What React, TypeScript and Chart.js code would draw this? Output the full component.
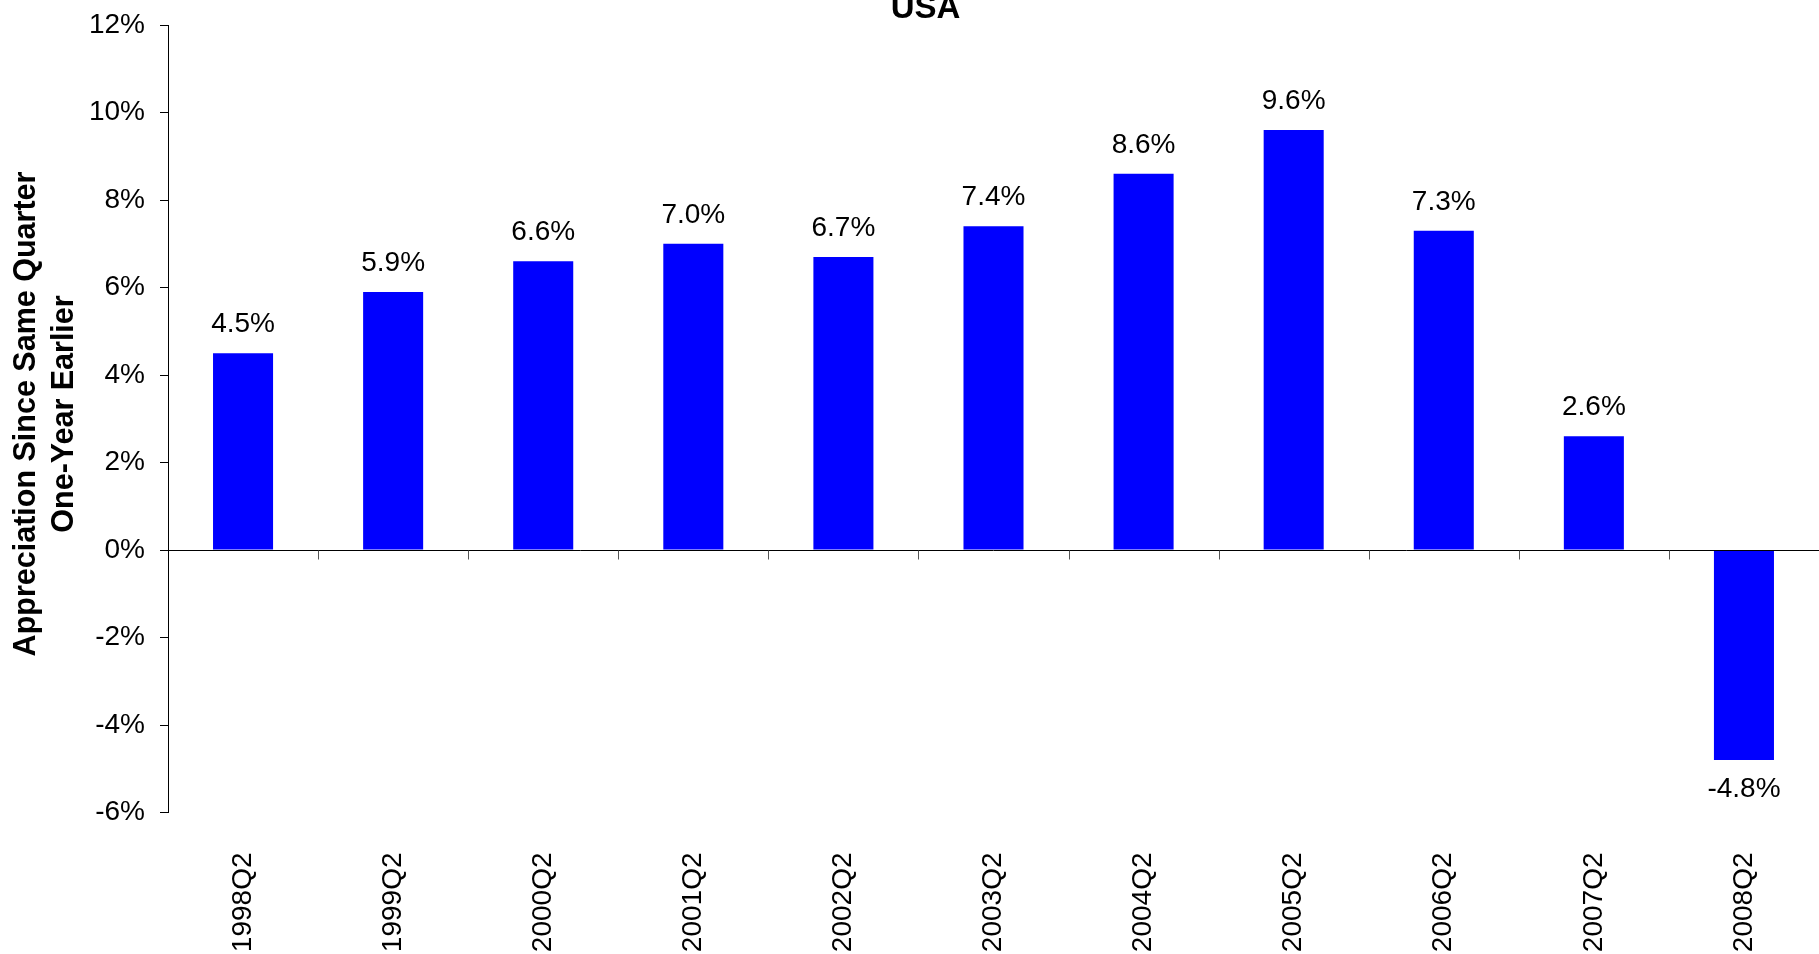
import React, { useEffect, useRef } from 'react';
import { Chart, registerables } from 'chart.js';

Chart.register(...registerables);

const FONT = '"Liberation Sans", Arial, Helvetica, sans-serif';
const W = 1819;
const H = 954;

const categories = ['1998Q2', '1999Q2', '2000Q2', '2001Q2', '2002Q2', '2003Q2', '2004Q2', '2005Q2', '2006Q2', '2007Q2', '2008Q2'];
const values = [4.5, 5.9, 6.6, 7.0, 6.7, 7.4, 8.6, 9.6, 7.3, 2.6, -4.8];
const yMin = -6;
const yMax = 12;
const yStep = 2;
const titleText = 'USA';
const yTitleLines = ['Appreciation Since Same Quarter', 'One-Year Earlier'];

export default function App() {
  const ref = useRef<HTMLCanvasElement>(null);

  useEffect(() => {
    const canvas = ref.current!;
    const overlay = {
      id: 'overlay',
      afterDatasetsDraw(chart: any) {
        const ctx = chart.ctx;
        const area = chart.chartArea;
        const xs = chart.scales.x;
        const ys = chart.scales.y;
        ctx.save();
        // zero line
        const y0 = Math.round(ys.getPixelForValue(0)) + 0.5;
        ctx.strokeStyle = '#000';
        ctx.lineWidth = 1;
        ctx.beginPath();
        ctx.moveTo(area.left, y0);
        ctx.lineTo(area.right, y0);
        ctx.stroke();
        // category boundary tick marks
        ctx.strokeStyle = '#555';
        for (let i = 1; i < categories.length; i++) {
          const bx = Math.round((xs.getPixelForTick(i - 1) + xs.getPixelForTick(i)) / 2) + 0.5;
          ctx.beginPath();
          ctx.moveTo(bx, y0);
          ctx.lineTo(bx, y0 + 9);
          ctx.stroke();
        }
        // data labels
        const meta = chart.getDatasetMeta(0);
        ctx.fillStyle = '#000';
        ctx.font = `28px ${FONT}`;
        ctx.textAlign = 'center';
        ctx.textBaseline = 'alphabetic';
        meta.data.forEach((el: any, i: number) => {
          const v = values[i];
          const txt = v.toFixed(1) + '%';
          if (v >= 0) ctx.fillText(txt, el.x, el.y - 21);
          else ctx.fillText(txt, el.x, el.y + 37);
        });
        // title
        ctx.font = `bold 33px ${FONT}`;
        ctx.fillText(titleText, 925.5, 18);
        // y axis title
        ctx.font = `bold 30.5px ${FONT}`;
        const cy = 414;
        const xs2 = [35, 73];
        yTitleLines.forEach((line, k) => {
          ctx.save();
          ctx.translate(xs2[k], cy);
          ctx.rotate(-Math.PI / 2);
          ctx.textAlign = 'center';
          ctx.textBaseline = 'alphabetic';
          ctx.fillText(line, 0, 0);
          ctx.restore();
        });
        ctx.restore();
      },
    };

    const chart = new Chart(canvas, {
      type: 'bar',
      data: {
        labels: categories,
        datasets: [
          {
            data: values,
            backgroundColor: '#0000FF',
            borderWidth: 0,
            barPercentage: 0.4,
            categoryPercentage: 1,
          },
        ],
      },
      options: {
        responsive: false,
        animation: false,
        devicePixelRatio: 1,
        layout: { padding: { top: 25, left: 0, right: 0, bottom: 0 } },
        plugins: {
          legend: { display: false },
          tooltip: { enabled: false },
          title: { display: false },
        },
        scales: {
          x: {
            grid: { display: false },
            border: { display: false },
            ticks: {
              minRotation: 90,
              maxRotation: 90,
              autoSkip: false,
              padding: 32,
              color: '#000',
              font: { family: FONT, size: 28 },
            },
            afterFit: (s: any) => {
              s.height = H - 812.5;
              s.paddingLeft = 0;
              s.paddingRight = 0;
            },
          },
          y: {
            min: yMin,
            max: yMax,
            grid: { drawOnChartArea: false, drawTicks: true, tickLength: 8, color: '#000' },
            border: { display: true, color: '#000', width: 1 },
            ticks: {
              stepSize: yStep,
              padding: 15,
              color: '#000',
              font: { family: FONT, size: 28 },
              callback: (v: any) => v + '%',
            },
            afterFit: (s: any) => {
              s.width = 168;
              s.paddingTop = 0;
              s.paddingBottom = 0;
            },
          },
        },
      },
      plugins: [overlay],
    } as any);
    return () => chart.destroy();
  }, []);

  return (
    <div style={{ position: 'absolute', left: 0, top: 0, width: W, height: H, background: '#fff' }}>
      <canvas ref={ref} width={W} height={H} style={{ display: 'block' }} />
    </div>
  );
}
